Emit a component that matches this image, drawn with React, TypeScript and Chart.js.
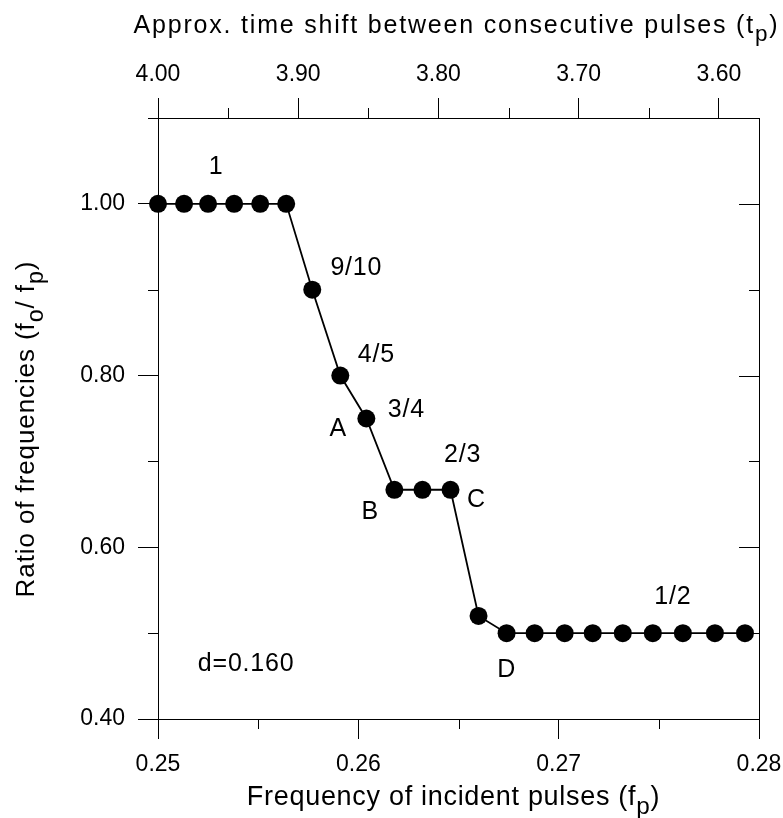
import React, { useEffect, useRef } from 'react';
import { Chart, registerables } from 'chart.js';

Chart.register(...registerables);

// ---- data ----
const freq = [0.2500, 0.2513, 0.2525, 0.2538, 0.2551, 0.2564, 0.2577, 0.2591, 0.2604, 0.2618, 0.2632, 0.2646, 0.2660, 0.2674, 0.2688, 0.2703, 0.2717, 0.2732, 0.2747, 0.2762, 0.2778, 0.2793];
const ratio = [1, 1, 1, 1, 1, 1, 0.9, 0.8, 0.75, 0.667, 0.667, 0.667, 0.52, 0.5, 0.5, 0.5, 0.5, 0.5, 0.5, 0.5, 0.5, 0.5];

const labelTexts = ['1', '9/10', '4/5', '3/4', 'A', '2/3', 'C', 'B', '1/2', 'D', 'd=0.160'];
const labelX = [0.2529, 0.2599, 0.2609, 0.2624, 0.2590, 0.2652, 0.2659, 0.2606, 0.2757, 0.2674, 0.2544];
const labelY = [1.043, 0.925, 0.824, 0.760, 0.738, 0.707, 0.655, 0.641, 0.542, 0.457, 0.464];

const xMinorTicks = [0.255, 0.265, 0.275];
const topMinorTicks = [3.95, 3.85, 3.75, 3.65];
const yMajorTicks = [0.4, 0.6, 0.8, 1.0];
const yMinorTicks = [0.5, 0.7, 0.9, 1.1];

const bottomTitle: [string, boolean][] = [['Frequency of incident pulses (f', false], ['p', true], [')', false]];
const leftTitle: [string, boolean][] = [['Ratio of frequencies (f', false], ['o', true], ['/ f', false], ['p', true], [')', false]];
const topTitle: [string, boolean][] = [['Approx. time shift between consecutive pulses (t', false], ['p', true], [')', false]];

const FAMILY = "'Liberation Sans', Arial, Helvetica, sans-serif";

function drawRich(ctx: CanvasRenderingContext2D, parts: [string, boolean][], cx: number, by: number, size: number, spacing: number) {
  const subSize = size * 0.9;
  ctx.letterSpacing = spacing + 'px';
  let total = 0;
  const widths = parts.map(([t, sub]) => {
    ctx.font = `${sub ? subSize : size}px ${FAMILY}`;
    const w = ctx.measureText(t).width;
    total += w;
    return w;
  });
  let x = cx - total / 2;
  ctx.textAlign = 'left';
  ctx.textBaseline = 'alphabetic';
  parts.forEach(([t, sub], i) => {
    ctx.font = `${sub ? subSize : size}px ${FAMILY}`;
    ctx.fillText(t, x, by + (sub ? size * 0.33 : 0));
    x += widths[i];
  });
}

const decorPlugin = {
  id: 'decor',
  afterDraw(chart: any) {
    const ctx: CanvasRenderingContext2D = chart.ctx;
    const { x, x2, y } = chart.scales;
    const a = chart.chartArea;
    ctx.save();
    ctx.strokeStyle = '#000';
    ctx.lineWidth = 1;
    const al = (v: number) => Math.round(v) + 0.5;
    ctx.beginPath();
    xMinorTicks.forEach((v) => {
      const px = al(x.getPixelForValue(v));
      ctx.moveTo(px, a.bottom);
      ctx.lineTo(px, a.bottom + 10);
    });
    topMinorTicks.forEach((v) => {
      const px = al(x2.getPixelForValue(v));
      ctx.moveTo(px, a.top);
      ctx.lineTo(px, a.top - 10);
    });
    yMinorTicks.forEach((v) => {
      const py = al(y.getPixelForValue(v));
      ctx.moveTo(a.left - 10, py);
      ctx.lineTo(a.left, py);
      ctx.moveTo(a.right - 10, py);
      ctx.lineTo(a.right, py);
    });
    yMajorTicks.forEach((v) => {
      const py = al(y.getPixelForValue(v));
      ctx.moveTo(a.right - 20, py);
      ctx.lineTo(a.right, py);
    });
    ctx.stroke();

    // annotations
    ctx.fillStyle = '#000';
    ctx.letterSpacing = '0.8px';
    ctx.font = `25px ${FAMILY}`;
    ctx.textAlign = 'center';
    ctx.textBaseline = 'middle';
    labelTexts.forEach((t, i) => {
      ctx.fillText(t, x.getPixelForValue(labelX[i]), y.getPixelForValue(labelY[i]));
    });

    // axis titles
    const cx = (a.left + a.right) / 2;
    drawRich(ctx, bottomTitle, cx - 5, 805, 27, 0.7);
    drawRich(ctx, topTitle, cx - 2, 33, 25, 1.8);
    ctx.save();
    ctx.translate(34, 429);
    ctx.rotate(-Math.PI / 2);
    drawRich(ctx, leftTitle, 0, 0, 26, 0.9);
    ctx.restore();
    ctx.restore();
  },
};

export default function App() {
  const ref = useRef<HTMLCanvasElement>(null);
  useEffect(() => {
    document.body.style.margin = '0';
    const canvas = ref.current;
    if (!canvas) return;
    const tickFont = { family: FAMILY, size: 23 };
    const grid = { drawOnChartArea: false, drawTicks: true, tickLength: 20, color: '#000', lineWidth: 1 };
    const border = { display: true, color: '#000', width: 1 };
    const fitH = (h: number) => (s: any) => { s.height = h; s.paddingLeft = 0; s.paddingRight = 0; s.paddingTop = 0; s.paddingBottom = 0; };
    const fitW = (w: number) => (s: any) => { s.width = w; s.paddingLeft = 0; s.paddingRight = 0; s.paddingTop = 0; s.paddingBottom = 0; };
    const chart = new Chart(canvas, {
      type: 'scatter',
      data: {
        datasets: [
          {
            data: freq.map((f, i) => ({ x: f, y: ratio[i] })),
            showLine: true,
            borderColor: '#000',
            borderWidth: 1.8,
            pointRadius: 9,
            pointBorderWidth: 0,
            pointBackgroundColor: '#000',
            pointHoverRadius: 9,
            clip: false,
            xAxisID: 'x',
            yAxisID: 'y',
          } as any,
        ],
      },
      options: {
        animation: false,
        responsive: false,
        devicePixelRatio: 1,
        layout: { padding: 0 },
        events: [],
        plugins: { legend: { display: false }, tooltip: { enabled: false } },
        scales: {
          x: {
            type: 'linear', position: 'bottom', min: 0.25, max: 0.28,
            ticks: { stepSize: 0.01, callback: (v: any) => Number(v).toFixed(2), font: tickFont, color: '#000', padding: 12, maxRotation: 0, autoSkip: false, includeBounds: false },
            grid, border,
            afterFit: fitH(99),
          },
          x2: {
            type: 'linear', position: 'top', min: 3.5714, max: 4.0, reverse: true,
            ticks: { stepSize: 0.1, callback: (v: any) => Number(v).toFixed(2), font: tickFont, color: '#000', padding: 10, maxRotation: 0, autoSkip: false, includeBounds: false },
            grid, border,
            afterFit: fitH(118),
          },
          y: {
            type: 'linear', position: 'left', min: 0.4, max: 1.1,
            ticks: { stepSize: 0.2, callback: (v: any) => Number(v).toFixed(2), font: tickFont, color: '#000', padding: 13, autoSkip: false, includeBounds: false },
            grid, border,
            afterFit: fitW(158),
          },
          y2: {
            type: 'linear', position: 'right', min: 0.4, max: 1.1,
            ticks: { display: false },
            grid: { display: false },
            border,
            afterFit: fitW(24),
          },
        } as any,
      },
      plugins: [decorPlugin],
    });
    return () => chart.destroy();
  }, []);
  return (
    <div style={{ width: 783, height: 818 }}>
      <canvas ref={ref} width={783} height={818} style={{ display: 'block' }} />
    </div>
  );
}
